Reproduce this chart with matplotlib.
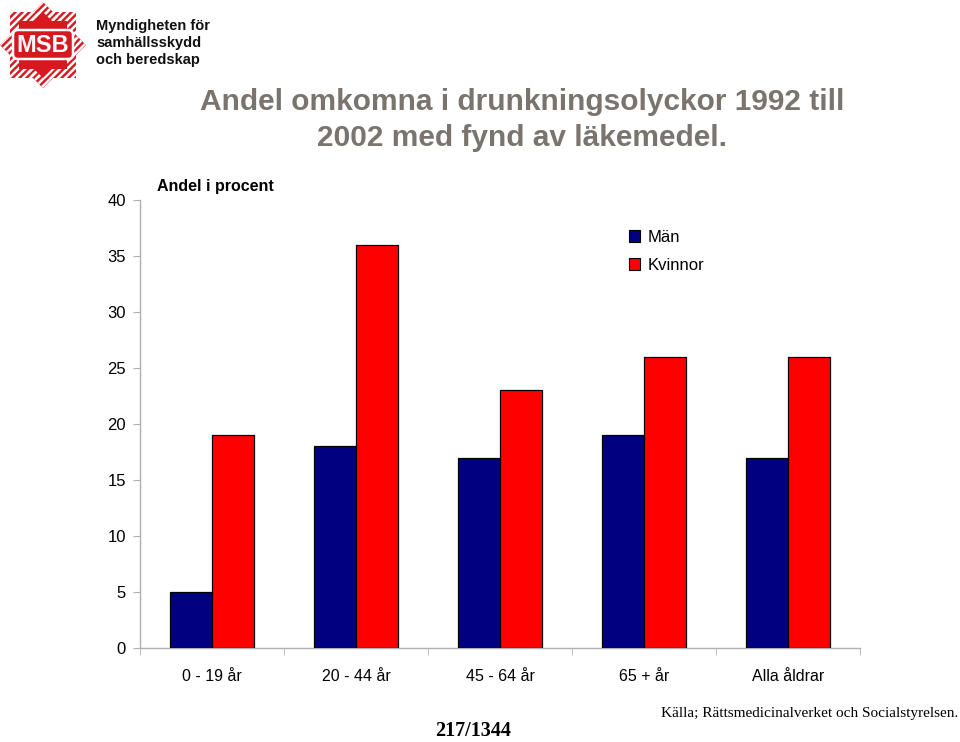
import matplotlib
matplotlib.use("Agg")
import matplotlib.pyplot as plt
from matplotlib.patches import Polygon, FancyBboxPatch, Patch, Rectangle
import numpy as np

categories = ["0 - 19 år", "20 - 44 år", "45 - 64 år", "65 + år", "Alla åldrar"]
man = [5, 18, 17, 19, 17]
kvinnor = [19, 36, 23, 26, 26]
yticks = [0, 5, 10, 15, 20, 25, 30, 35, 40]

title = "Andel omkomna i drunkningsolyckor 1992 till\n2002 med fynd av läkemedel."
ylabel = "Andel i procent"
source = "Källa; Rättsmedicinalverket och Socialstyrelsen."
pagenum = "217/1344"
logo_text = "Myndigheten för\nsamhällsskydd\noch beredskap"

W, H = 960, 742
fig = plt.figure(figsize=(W / 100, H / 100), dpi=100)
plt.rcParams['font.family'] = ['Liberation Sans', 'DejaVu Sans']

def fx(px):
    return px / W

def fy(py):
    return 1 - py / H

ax = fig.add_axes([fx(140), fy(648), fx(860) - fx(140), fy(200) - fy(648)])
x = np.arange(len(categories))
bw = 0.29
navy = "#000080"
red = "#ff0000"
ax.bar(x - bw / 2, man, bw, color=navy, edgecolor="black", linewidth=0.9, label="Män", zorder=3)
ax.bar(x + bw / 2, kvinnor, bw, color=red, edgecolor="black", linewidth=0.9, label="Kvinnor", zorder=3)

ax.set_xlim(-0.5, len(categories) - 0.5)
ax.set_ylim(0, 40)
ax.set_yticks(yticks)
ax.set_yticklabels([str(v) for v in yticks], fontsize=12)
ax.set_xticks(x)
ax.set_xticklabels(categories, fontsize=11.5)
ax.set_xticks(np.arange(-0.5, len(categories)), minor=True)
ax.tick_params(axis="x", which="major", length=0, pad=15)
ax.tick_params(axis="x", which="minor", length=5, color="#b0b0b0", direction="out")
ax.tick_params(axis="y", which="major", length=5, color="#b0b0b0", pad=5)
for s in ["top", "right"]:
    ax.spines[s].set_visible(False)
for s in ["left", "bottom"]:
    ax.spines[s].set_color("#b0b0b0")
    ax.spines[s].set_linewidth(1.0)

ax.text((157 - 140) / 720, 1.0 + 14 / 448, ylabel, transform=ax.transAxes,
        fontsize=11.5, fontweight="bold", ha="left", va="center")

handles = [Patch(facecolor=navy, edgecolor="black", linewidth=0.8, label="Män"),
           Patch(facecolor=red, edgecolor="black", linewidth=0.8, label="Kvinnor")]
ax.legend(handles=handles, loc="upper left", bbox_to_anchor=(0.658, 0.967), frameon=False,
          fontsize=12, handlelength=0.7, handleheight=0.7, handletextpad=0.45, labelspacing=0.8)

fig.text(fx(522), fy(120), title, ha="center", va="center", fontsize=21.5, fontweight="bold",
         color="#7a746e", linespacing=1.35)

fig.text(fx(958), fy(714), source, ha="right", va="center", fontsize=11,
         family=["Liberation Serif", "DejaVu Serif"])
fig.text(fx(473), fy(731), pagenum, ha="center", va="center", fontsize=14.5, fontweight="bold",
         family=["Liberation Serif", "DejaVu Serif"])

# logo
lax = fig.add_axes([0, fy(92), fx(92), fy(0) - fy(92)])
lax.set_xlim(0, 92)
lax.set_ylim(92, 0)
lax.axis("off")
logo_red = "#d7191f"
cx, cy = 43, 45
d = 43
s = 33
rot = Polygon([(cx, cy - d), (cx + d, cy), (cx, cy + d), (cx - d, cy)], closed=True,
              facecolor=logo_red, edgecolor="none", zorder=1)
sq = Polygon([(cx - s, cy - s), (cx + s, cy - s), (cx + s, cy + s), (cx - s, cy + s)], closed=True,
             facecolor=logo_red, edgecolor="none", zorder=1)
lax.add_patch(rot)
lax.add_patch(sq)
for k in np.arange(-120, 120, 7):
    for clip in (rot, sq):
        ln, = lax.plot([cx - 70 + k, cx + 70 + k], [cy + 70, cy - 70], color="white", lw=1.8, zorder=2)
        ln.set_clip_path(clip)
lax.add_patch(Polygon([(cx, cy - 33), (cx + 33, cy), (cx, cy + 33), (cx - 33, cy)], closed=True,
                      facecolor=logo_red, edgecolor="none", zorder=3))
lax.add_patch(Rectangle((cx - 24, cy - 24), 48, 48, facecolor=logo_red, edgecolor="none", zorder=3))
lax.add_patch(FancyBboxPatch((cx - 30, cy - 15), 60, 29, boxstyle="round,pad=0,rounding_size=5",
                             facecolor=logo_red, edgecolor="white", linewidth=1.8, zorder=4))
lax.text(cx, cy + 0.5, "MSB", color="white", fontsize=17, fontweight="bold", ha="center", va="center",
         family=["Liberation Sans", "DejaVu Sans"], zorder=5)
fig.text(fx(96), fy(43), logo_text, ha="left", va="center", fontsize=10.5, fontweight="bold",
         linespacing=1.3, color="#111111")

fig.savefig("out.png", dpi=100)
